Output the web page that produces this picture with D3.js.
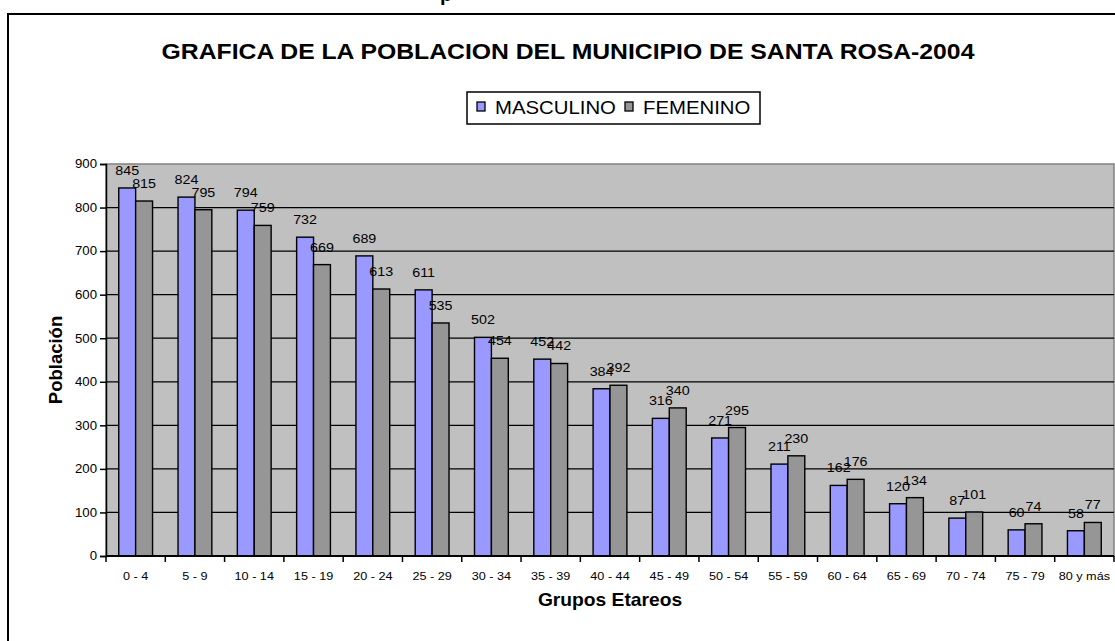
<!DOCTYPE html>
<html>
<head>
<meta charset="utf-8">
<script src="https://cdn.jsdelivr.net/npm/d3@7"></script>
<style>
  body { margin: 0; background: #fff; }
  svg { display: block; font-family: Arial, "Liberation Sans", sans-serif; }
</style>
</head>
<body>
<div id="chart"></div>
<script>
// data
var groups = ['0 - 4', '5 - 9', '10 - 14', '15 - 19', '20 - 24', '25 - 29', '30 - 34', '35 - 39', '40 - 44',
    '45 - 49', '50 - 54', '55 - 59', '60 - 64', '65 - 69', '70 - 74', '75 - 79', '80 y más'];
var masculino = [845, 824, 794, 732, 689, 611, 502, 452, 384, 316, 271, 211, 162, 120, 87, 60, 58];
var femenino = [815, 795, 759, 669, 613, 535, 454, 442, 392, 340, 295, 230, 176, 134, 101, 74, 77];
var seriesNames = ['MASCULINO', 'FEMENINO'];
var seriesColors = ['#9999ff', '#969696'];
var yTicks = [0, 100, 200, 300, 400, 500, 600, 700, 800, 900];

var width = 1115, height = 641;
var stretch = 1.1; // text in the picture is a bit wider than tall

var svg = d3.select('#chart').append('svg')
    .attr('width', width)
    .attr('height', height);

function stretchedText (sel, x, y) {
    return sel.attr('transform', 'translate(' + x + ',' + y + ') scale(' + stretch + ',1)');
}

// cut off heading above the frame
svg.append('text')
    .attr('x', 440).attr('y', 1)
    .style('font-weight', 'bold').style('font-size', '20px')
    .text('p');

// outer frame (runs off the right and bottom edge)
svg.append('rect')
    .attr('x', 8).attr('y', 14)
    .attr('width', 1130).attr('height', 660)
    .attr('fill', 'none')
    .attr('stroke', '#000')
    .attr('stroke-width', 2);

stretchedText(svg.append('text'), 568, 59)
    .attr('text-anchor', 'middle')
    .style('font-weight', 'bold').style('font-size', '22.5px')
    .text('GRAFICA DE LA POBLACION DEL MUNICIPIO DE SANTA ROSA-2004');

// plot area
var plotLeft = 106, plotRight = 1114, plotTop = 164, plotBottom = 556;

var x = d3.scaleBand()
    .domain(groups)
    .range([plotLeft, plotRight])
    .paddingInner(0.43)
    .paddingOuter(0.215);

var xs = d3.scaleBand()
    .domain(seriesNames)
    .range([0, x.bandwidth()]);

var y = d3.scaleLinear()
    .domain([0, 900])
    .range([plotBottom, plotTop]);

svg.append('rect')
    .attr('x', plotLeft).attr('y', plotTop)
    .attr('width', plotRight - plotLeft).attr('height', plotBottom - plotTop)
    .attr('fill', '#c0c0c0')
    .attr('stroke', '#808080')
    .attr('stroke-width', 1.5);

svg.append('g')
    .selectAll('line')
    .data(yTicks.filter(function (d) { return d > 0 && d < 900; }))
    .enter().append('line')
    .attr('x1', plotLeft).attr('x2', plotRight)
    .attr('y1', function (d) { return y(d); })
    .attr('y2', function (d) { return y(d); })
    .attr('stroke', '#000')
    .attr('stroke-width', 1.2);

var series = [masculino, femenino];
var bars = svg.append('g');
series.forEach(function (vals, si) {
    bars.selectAll('.bar' + si)
        .data(vals)
        .enter().append('rect')
        .attr('class', 'bar' + si)
        .attr('x', function (d, i) { return x(groups[i]) + xs(seriesNames[si]); })
        .attr('y', function (d) { return y(d); })
        .attr('width', xs.bandwidth())
        .attr('height', function (d) { return y(0) - y(d); })
        .attr('fill', seriesColors[si])
        .attr('stroke', '#000')
        .attr('stroke-width', 1.4);
});

// value labels
series.forEach(function (vals, si) {
    svg.append('g').selectAll('text')
        .data(vals)
        .enter().append('text')
        .each(function (d, i) {
            stretchedText(d3.select(this), x(groups[i]) + xs(seriesNames[si]) + xs.bandwidth() / 2, y(d) - 13);
        })
        .attr('text-anchor', 'middle')
        .style('font-size', '13px')
        .text(function (d) { return d; });
});

// y axis
var yAxis = svg.append('g')
    .attr('transform', 'translate(' + plotLeft + ',0)')
    .call(d3.axisLeft(y).tickValues(yTicks).tickSize(6).tickPadding(3));
yAxis.select('.domain').attr('stroke', '#000').attr('stroke-width', 1.5);
yAxis.selectAll('.tick line').attr('stroke-width', 1.5);
yAxis.selectAll('.tick text')
    .style('font-size', '12px')
    .attr('font-family', null)
    .attr('transform', 'scale(' + stretch + ',1)')
    .attr('x', -9 / stretch);

// x axis, ticks on category boundaries
var xAxis = svg.append('g')
    .attr('transform', 'translate(0,' + plotBottom + ')');
xAxis.append('line')
    .attr('x1', plotLeft).attr('x2', plotRight)
    .attr('stroke', '#000').attr('stroke-width', 2);
xAxis.selectAll('.xt')
    .data(groups.concat(['end']))
    .enter().append('line')
    .attr('class', 'xt')
    .attr('x1', function (d, i) { return plotLeft + i * x.step(); })
    .attr('x2', function (d, i) { return plotLeft + i * x.step(); })
    .attr('y1', 0).attr('y2', 6)
    .attr('stroke', '#000').attr('stroke-width', 1.5);
xAxis.selectAll('.xl')
    .data(groups)
    .enter().append('text')
    .attr('class', 'xl')
    .each(function (d) {
        stretchedText(d3.select(this), x(d) + x.bandwidth() / 2, 24);
    })
    .attr('text-anchor', 'middle')
    .style('font-size', '11.5px')
    .text(function (d) { return d; });

stretchedText(svg.append('text'), (plotLeft + plotRight) / 2, 606)
    .attr('text-anchor', 'middle')
    .style('font-weight', 'bold').style('font-size', '17.5px')
    .text('Grupos Etareos');

svg.append('text')
    .attr('transform', 'translate(61.5,' + (plotTop + plotBottom) / 2 + ') rotate(-90)')
    .attr('text-anchor', 'middle')
    .style('font-weight', 'bold').style('font-size', '18.5px')
    .text('Población');

// legend
var legend = svg.append('g');
legend.append('rect')
    .attr('x', 467).attr('y', 92)
    .attr('width', 293).attr('height', 32)
    .attr('fill', '#fff')
    .attr('stroke', '#000')
    .attr('stroke-width', 1.5);
var legendX = [477, 625];
seriesNames.forEach(function (name, i) {
    legend.append('rect')
        .attr('x', legendX[i]).attr('y', 102)
        .attr('width', 8).attr('height', 9)
        .attr('fill', seriesColors[i])
        .attr('stroke', '#000')
        .attr('stroke-width', 1.3);
    stretchedText(legend.append('text'), legendX[i] + 18, 114)
        .style('font-size', '18.5px')
        .text(name);
});
</script>
</body>
</html>
